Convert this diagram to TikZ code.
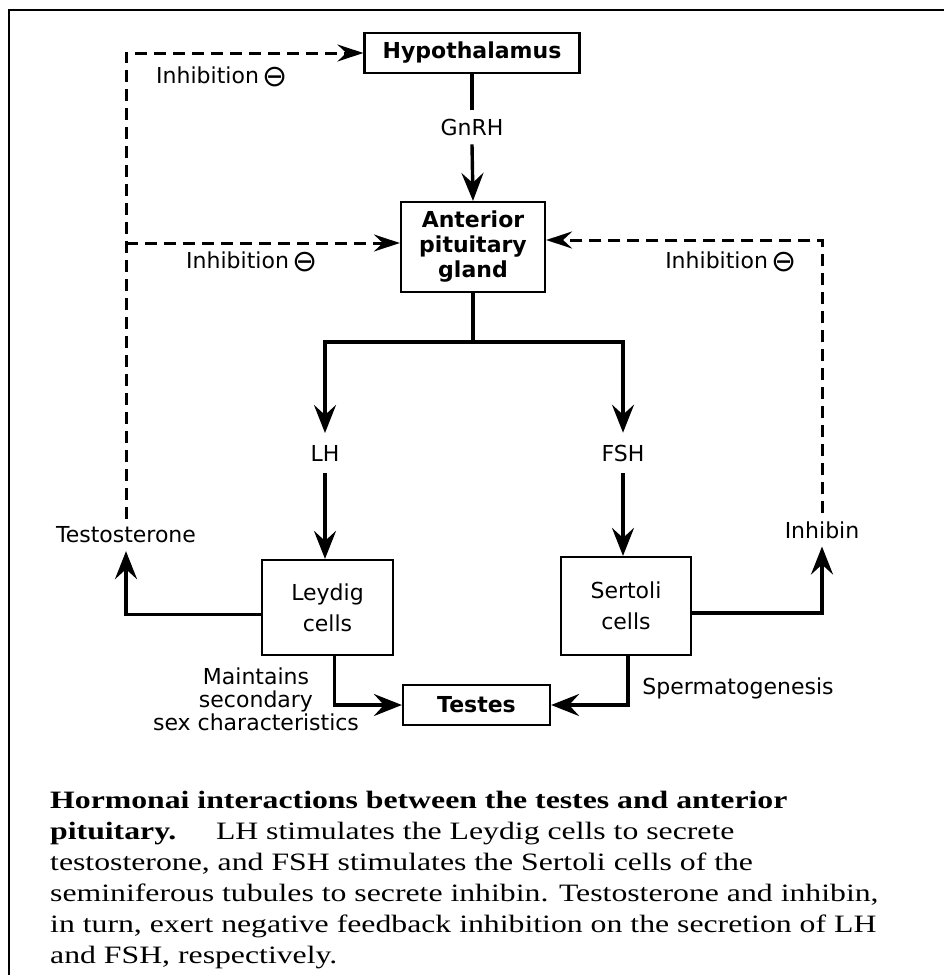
\documentclass[tikz,border=0pt]{standalone}
\usepackage{fontspec}
\setmainfont{Liberation Serif}
\setsansfont{DejaVu Sans}
\usetikzlibrary{arrows.meta}
\tikzset{
  x=1pt, y=-1pt,
  lbl/.style={font=\sffamily\fontsize{22}{25}\selectfont, inner sep=3pt, align=center},
  box/.style={draw, line width=2.2pt, inner sep=0pt, align=center, font=\sffamily\fontsize{22}{25}\selectfont},
  arr/.style={line width=3.4pt, -{Stealth[length=28pt,width=22pt,inset=10pt]}},
  plain/.style={line width=3.4pt},
  darr/.style={line width=3pt, dash pattern=on 12pt off 7pt, -{Stealth[length=26pt,width=17pt,inset=9pt]}},
}
\newcommand{\mcirc}{\raisebox{-2.5pt}{\fontspec{DejaVu Sans}\fontsize{30}{30}\selectfont ⊖}}
\begin{document}
\begin{tikzpicture}
\useasboundingbox (0,0) rectangle (944,975);
% frame
\draw[line width=2.5pt] (9,975) -- (9,10) -- (944,10);

% boxes
\node[box, minimum width=215, minimum height=40] (hyp) at (472,53) {\bfseries Hypothalamus};
\node[box, minimum width=144, minimum height=90] (ant) at (473,247) {\bfseries Anterior\\\bfseries pituitary\\\bfseries gland};
\node[box, minimum width=131, minimum height=95, font=\sffamily\fontsize{22}{31}\selectfont] (ley) at (327.5,607.5) {Leydig\\cells};
\node[box, minimum width=130, minimum height=98, font=\sffamily\fontsize{22}{31}\selectfont] (sert) at (626,606) {Sertoli\\cells};
\node[box, minimum width=147, minimum height=40] (testes) at (476.5,705) {\bfseries Testes};

% labels
\node[lbl, outer sep=6pt] (gnrh) at (472,127) {GnRH};
\node[lbl, outer sep=9pt] (lh) at (325,453) {LH};
\node[lbl, outer sep=9pt] (fsh) at (623,453) {FSH};
\node[lbl, outer sep=5pt] (testo) at (126,535) {Testosterone};
\node[lbl, outer sep=5pt] (inhibin) at (822,530) {Inhibin};
\node[lbl] (inh1) at (222,77) {Inhibition\,\mcirc};
\node[lbl] (inh2) at (252,262) {Inhibition\,\mcirc};
\node[lbl] (inh3) at (731,262) {Inhibition\,\mcirc};
\node[lbl, font=\sffamily\fontsize{22}{23}\selectfont] (maint) at (256,699) {Maintains\\secondary\\sex characteristics};
\node[lbl] (sperm) at (738,688) {Spermatogenesis};

% solid connectors
\draw[plain] (hyp.south) -- (gnrh.north);
\draw[arr] (gnrh.south) -- (ant.north);
\coordinate (split) at (473,342);
\draw[plain] (ant.south) -- (split);
\draw[arr] (split) -| (lh.north);
\draw[arr] (split) -| (fsh.north);
\draw[arr] (lh.south) -- (ley.north -| lh.south);
\draw[arr] (fsh.south) -- (sert.north -| fsh.south);
\draw[arr] ([yshift=-7pt]ley.west) -| (testo.south);
\draw[arr] ([yshift=-7pt]sert.east) -| (inhibin.south);
\draw[arr] ([xshift=7pt]ley.south) |- (testes.west);
\draw[arr] ([xshift=2pt]sert.south) |- (testes.east);

% dashed feedback
\draw[darr] (testo.north) |- (hyp.west);
\draw[darr] (testo.north |- ant.west) ++(0,-4) -- ([yshift=4pt]ant.west);
\draw[darr] (inhibin.north) |- ([yshift=7pt]ant.east);

% caption
\node[anchor=north west, inner sep=0pt] (cap) at (50,791) {\scalebox{1.27}[1]{\begin{minipage}{690pt}\fontsize{25}{31}\selectfont\raggedright
\textbf{Hormonai interactions between the testes and anterior}\\
\textbf{pituitary.}\quad\ LH stimulates the Leydig cells to secrete\\
testosterone, and FSH stimulates the Sertoli cells of the\\
seminiferous tubules to secrete inhibin. Testosterone and inhibin,\\
in turn, exert negative feedback inhibition on the secretion of LH\\
and FSH, respectively.
\end{minipage}}};
\end{tikzpicture}
\end{document}
